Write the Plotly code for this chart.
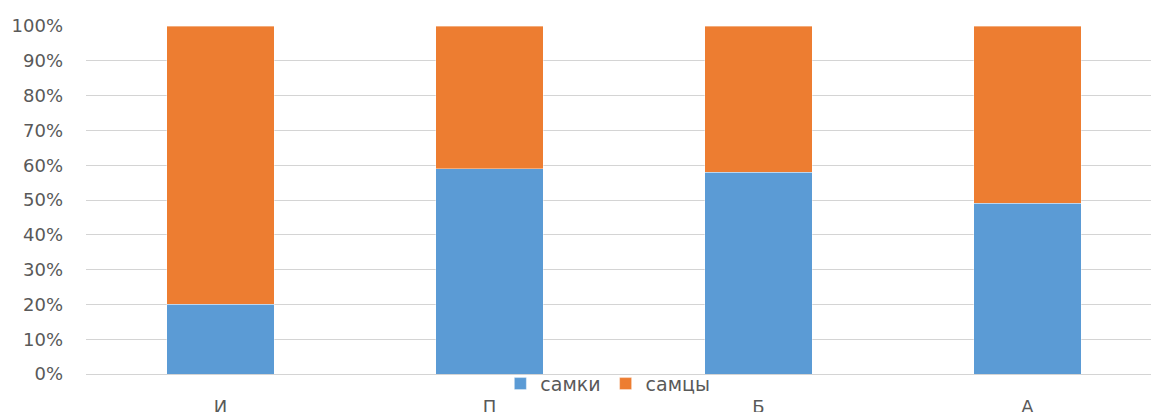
import plotly.graph_objects as go

categories = ["И", "П", "Б", "А"]
females = [20, 59, 58, 49]   # самки, %
males = [80, 41, 42, 51]     # самцы, %
series_names = ["самки", "самцы"]
colors = ["#5B9BD5", "#ED7D31"]

fig = go.Figure()
for name, vals, col in zip(series_names, [females, males], colors):
    fig.add_trace(go.Bar(
        x=categories, y=vals, name=name,
        marker=dict(color=col, line=dict(color="rgba(255,255,255,0.6)", width=0.6)),
        width=0.40,
    ))

font_family = "DejaVu Sans, Liberation Sans, sans-serif"
fig.update_layout(
    barmode="stack",
    width=1151, height=412,
    margin=dict(l=86, r=0, t=26, b=38, autoexpand=False),
    paper_bgcolor="white", plot_bgcolor="white",
    font=dict(family=font_family, size=18, color="#595959"),
    showlegend=True,
    legend=dict(orientation="h", x=0.49, xanchor="center", y=-0.028, yanchor="middle",
                traceorder="normal",
                font=dict(size=19, color="#595959"), bgcolor="rgba(0,0,0,0)",
                itemwidth=30, tracegroupgap=0),
    xaxis=dict(range=[-0.5, 3.459], showgrid=False, showline=False, ticks="",
               automargin=False, ticklabelstandoff=20,
               tickfont=dict(size=18, color="#595959")),
    yaxis=dict(range=[0, 100], dtick=10, ticksuffix="%", showgrid=True,
               gridcolor="#D4D4D4", gridwidth=1.4, zeroline=True, zerolinecolor="#D4D4D4",
               zerolinewidth=1.4, showline=False, ticks="", automargin=False,
               ticklabelstandoff=22,
               tickfont=dict(size=18, color="#595959")),
)

fig.write_html(
    "out.html",
    config={"displayModeBar": False},
    post_script="document.body.style.margin='0';document.body.style.overflow='hidden';",
)
